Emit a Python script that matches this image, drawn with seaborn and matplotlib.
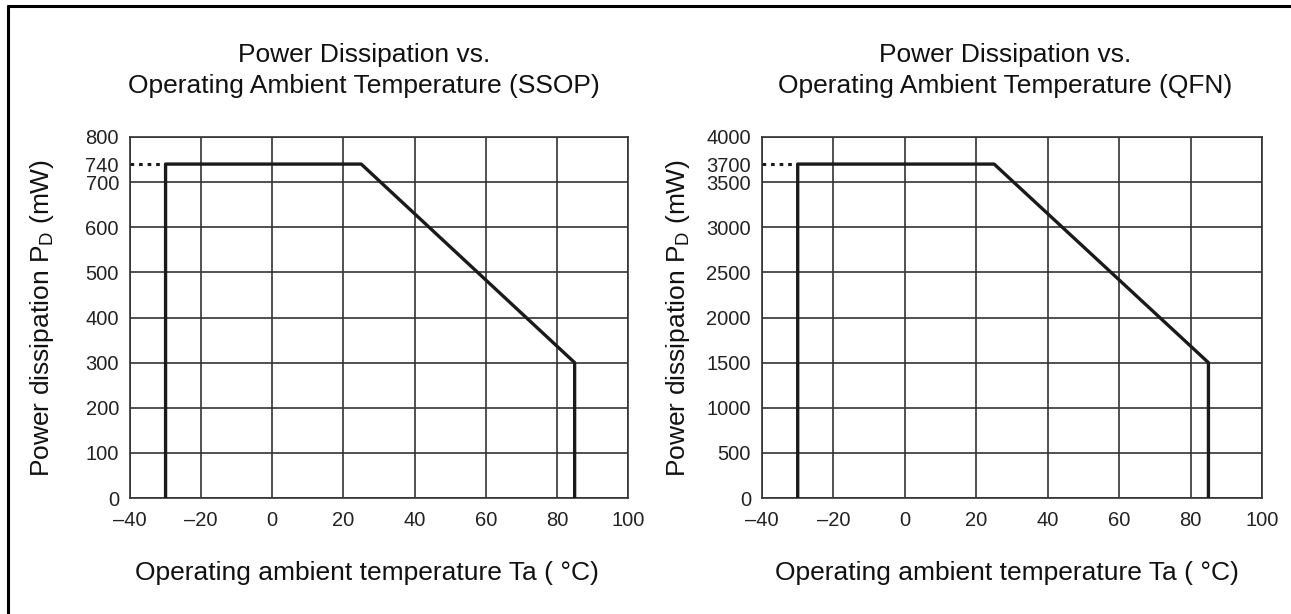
import matplotlib
matplotlib.use("Agg")
import matplotlib.pyplot as plt
import seaborn as sns
import pandas as pd
from matplotlib.lines import Line2D

# ---- data ----
temps = [-30, -30, 25, 85, 85]
pd_ssop = [0, 740, 740, 300, 0]
pd_qfn = [0, 3700, 3700, 1500, 0]
dot_temps = [-40, -30]
xticks = [-40, -20, 0, 20, 40, 60, 80, 100]
xtick_labels = ["–40", "–20", "0", "20", "40", "60", "80", "100"]
yticks_ssop = [0, 100, 200, 300, 400, 500, 600, 700, 800]
yticks_qfn = [0, 500, 1000, 1500, 2000, 2500, 3000, 3500, 4000]
peak_ssop = 740
peak_qfn = 3700
titles = ["Power Dissipation vs.\nOperating Ambient Temperature (SSOP)",
          "Power Dissipation vs.\nOperating Ambient Temperature (QFN)"]
xlabel = "Operating ambient temperature Ta ( °C)"
ylabel = "Power dissipation P$_{\\mathrm{D}}$ (mW)"

sns.set_theme(style="white")
plt.rcParams["font.family"] = ["Liberation Sans", "DejaVu Sans"]
plt.rcParams["mathtext.fontset"] = "custom"
plt.rcParams["mathtext.rm"] = "Liberation Sans"
plt.rcParams["mathtext.it"] = "Liberation Sans:italic"

W, H = 1291, 614
fig = plt.figure(figsize=(W / 100, H / 100), dpi=100)
fig.patch.set_facecolor("white")

line_col = "#1a1a1a"
grid_col = "#333333"
text_col = "#111111"

axes_px = [(130, 137, 628, 498), (762, 137, 1262, 498)]
datasets = [(pd_ssop, yticks_ssop, peak_ssop), (pd_qfn, yticks_qfn, peak_qfn)]
label_x = [0.476, 0.49]
title_x = [0.47, 0.486]
ylab_x = [-0.1767, -0.168]

for i, ((x0, y0, x1, y1), (vals, yt, peak), title) in enumerate(zip(axes_px, datasets, titles)):
    ax = fig.add_axes([x0 / W, 1 - y1 / H, (x1 - x0) / W, (y1 - y0) / H])
    df = pd.DataFrame({"T": temps, "P": vals})
    sns.lineplot(data=df, x="T", y="P", sort=False, estimator=None,
                 color=line_col, linewidth=2.4, ax=ax, zorder=3)
    ax.plot(dot_temps, [peak, peak], linestyle=(0, (1.2, 1.6)),
            color=line_col, linewidth=2.2, zorder=3)
    ax.set_xlim(xticks[0], xticks[-1])
    ax.set_ylim(yt[0], yt[-1])
    ax.set_xticks(xticks)
    ax.set_xticklabels(xtick_labels)
    ax.set_yticks(yt)
    ax.set_yticklabels([str(v) for v in yt])
    ax.set_yticks([peak], minor=True)
    ax.set_yticklabels([str(peak)], minor=True)
    ax.grid(True, which="major", color=grid_col, linewidth=1.2)
    ax.grid(False, which="minor")
    ax.tick_params(axis="both", which="both", length=0, labelsize=14.5,
                   colors="#222222")
    ax.tick_params(axis="y", which="both", pad=8)
    ax.tick_params(axis="x", which="both", pad=9.5)
    for s in ax.spines.values():
        s.set_color(grid_col)
        s.set_linewidth(1.2)
        s.set_visible(True)
    t = ax.set_title(title, fontsize=19, pad=32, linespacing=1.35, color=text_col)
    t.set_x(title_x[i])
    ax.set_xlabel(xlabel, fontsize=19, color=text_col)
    ax.xaxis.set_label_coords(label_x[i], -0.175)
    ax.set_ylabel(ylabel, fontsize=19, color=text_col)
    ax.yaxis.label.set_va("center")
    ax.yaxis.set_label_coords(ylab_x[i], 0.5)

# outer frame (top and left edges visible)
fig.add_artist(Line2D([8 / W, 8 / W], [0, 1 - 6 / H], transform=fig.transFigure,
                      color="black", linewidth=2.2))
fig.add_artist(Line2D([8 / W, 1], [1 - 6 / H, 1 - 6 / H], transform=fig.transFigure,
                      color="black", linewidth=2.2))

fig.savefig("out.png", dpi=100, facecolor="white")
